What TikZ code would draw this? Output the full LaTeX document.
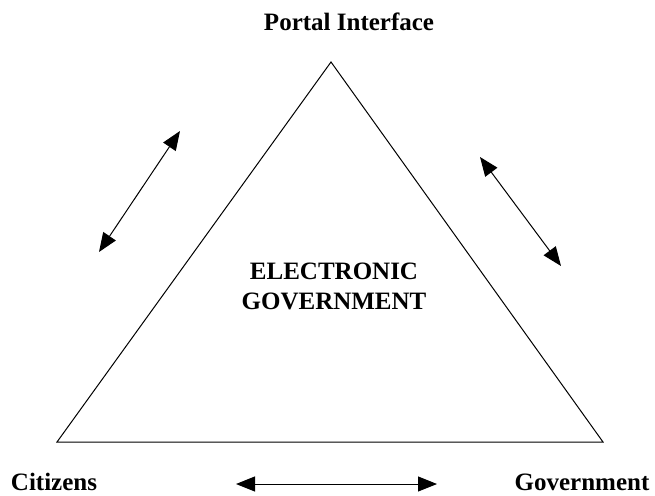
\documentclass[tikz,border=0pt]{standalone}
\usepackage{fontspec}
\setmainfont{Liberation Serif}
\usetikzlibrary{arrows.meta}
\begin{document}
\begin{tikzpicture}[x=1pt,y=-1pt,
  lbl/.style={font=\fontsize{25}{29}\selectfont\bfseries, inner sep=0pt},
  link/.style={line width=1pt, {Triangle[length=19pt,width=15pt]}-{Triangle[length=19pt,width=15pt]}}]
  \useasboundingbox (0,0) rectangle (655,495);
  % triangle
  \coordinate (apex) at (331,62);
  \coordinate (bl) at (57,442);
  \coordinate (br) at (603,442);
  \draw[line width=1pt, line join=miter] (apex) -- (bl) -- (br) -- cycle;
  % corner labels
  \node[lbl] (portal) at (349,22) {Portal Interface};
  \node[lbl] (cit) at (54,482) {Citizens};
  \node[lbl] (gov) at (582,482) {Government};
  % centre title
  \node[lbl, align=center, font=\fontsize{25}{30}\selectfont\bfseries] (eg) at (334,286) {ELECTRONIC\\GOVERNMENT};
  % two-way links
  \coordinate (l1) at (99,252);  \coordinate (l2) at (180,131);
  \coordinate (r1) at (480,157); \coordinate (r2) at (561,266);
  \coordinate (b1) at (236,484); \coordinate (b2) at (437,484);
  \draw[link] (l1) -- (l2);
  \draw[link] (r1) -- (r2);
  \draw[link] (b1) -- (b2);
\end{tikzpicture}
\end{document}
